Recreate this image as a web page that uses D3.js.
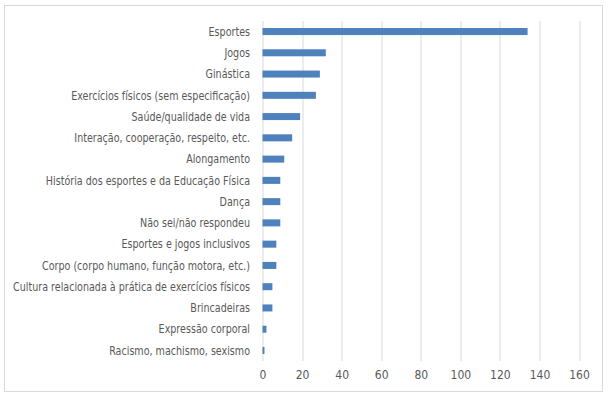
<!DOCTYPE html>
<html>
<head>
<meta charset="utf-8">
<script src="https://cdn.jsdelivr.net/npm/d3@7"></script>
<style>
  body { margin: 0; background: #fff; }
  text { font-family: "DejaVu Sans Condensed", "Open Sans", sans-serif; fill: #595959; }
</style>
</head>
<body>
<svg></svg>
<script>
var categories = ["Esportes", "Jogos", "Ginástica", "Exercícios físicos (sem especificação)",
  "Saúde/qualidade de vida", "Interação, cooperação,  respeito, etc.", "Alongamento",
  "História dos esportes e da Educação Física", "Dança", "Não sei/não respondeu",
  "Esportes e jogos inclusivos", "Corpo (corpo humano, função motora, etc.)",
  "Cultura relacionada à prática de exercícios físicos", "Brincadeiras",
  "Expressão corporal", "Racismo, machismo, sexismo"];
var values = [134, 32, 29, 27, 19, 15, 11, 9, 9, 9, 7, 7, 5, 5, 2, 1];
var ticks = [0, 20, 40, 60, 80, 100, 120, 140, 160];

var drawGraph = function()
{
  var screen = { width: 610, height: 397 };

  var svg = d3.select("svg")
              .attr("width", screen.width)
              .attr("height", screen.height);

  // chart frame
  svg.append("rect")
     .attr("x", 4.5).attr("y", 5.5)
     .attr("width", 598).attr("height", 386)
     .attr("fill", "#fff")
     .attr("stroke", "#d9d9d9");

  var margins = { top: 21, left: 262.5, right: 31, bottom: 36 };
  var width = screen.width - margins.left - margins.right;
  var height = screen.height - margins.top - margins.bottom;

  var xScale = d3.scaleLinear()
                 .domain([0, 160])
                 .range([0, width]);

  var yScale = d3.scaleBand()
                 .domain(categories)
                 .range([0, height])
                 .paddingInner(0.67)
                 .paddingOuter(0.33);

  var plot = svg.append("g")
                .attr("transform", "translate(" + margins.left + "," + margins.top + ")");

  // gridlines
  plot.selectAll("line.grid")
      .data(ticks)
      .enter()
      .append("line")
      .classed("grid", true)
      .attr("x1", function(d) { return Math.round(xScale(d)) + 0.5; })
      .attr("x2", function(d) { return Math.round(xScale(d)) + 0.5; })
      .attr("y1", 0)
      .attr("y2", height)
      .attr("stroke", "#d9d9d9");

  plot.selectAll("rect.bar")
      .data(values)
      .enter()
      .append("rect")
      .classed("bar", true)
      .attr("x", xScale(0))
      .attr("y", function(d, i) { return yScale(categories[i]); })
      .attr("width", function(d) { return xScale(d) - xScale(0); })
      .attr("height", yScale.bandwidth())
      .attr("fill", "#4f81bd");

  // category labels, squeezed sideways so the longest one fits like in the original
  var labels = plot.append("g");
  labels.selectAll("text.cat")
        .data(categories)
        .enter()
        .append("text")
        .classed("cat", true)
        .attr("x", 0)
        .attr("y", function(d) { return yScale(d) + yScale.bandwidth() / 2; })
        .attr("dy", "0.35em")
        .attr("text-anchor", "end")
        .style("font-size", "12px")
        .text(function(d) { return d; });

  var longest = d3.max(labels.selectAll("text").nodes(), function(n) { return n.getComputedTextLength(); });
  var k = Math.min(1, 237 / longest);
  labels.attr("transform", "translate(-12.5,0) scale(" + k + ",1)");

  // value axis labels
  var xAxis = d3.axisBottom(xScale)
                .tickValues(ticks)
                .tickSize(0)
                .tickPadding(9);

  var axisG = plot.append("g")
                  .attr("transform", "translate(0," + height + ")")
                  .call(xAxis);
  axisG.select(".domain").remove();
  axisG.attr("font-family", null).attr("font-size", null);
  axisG.selectAll("text")
       .style("font-size", "12px")
       .attr("fill", null);
}

drawGraph();
</script>
</body>
</html>
